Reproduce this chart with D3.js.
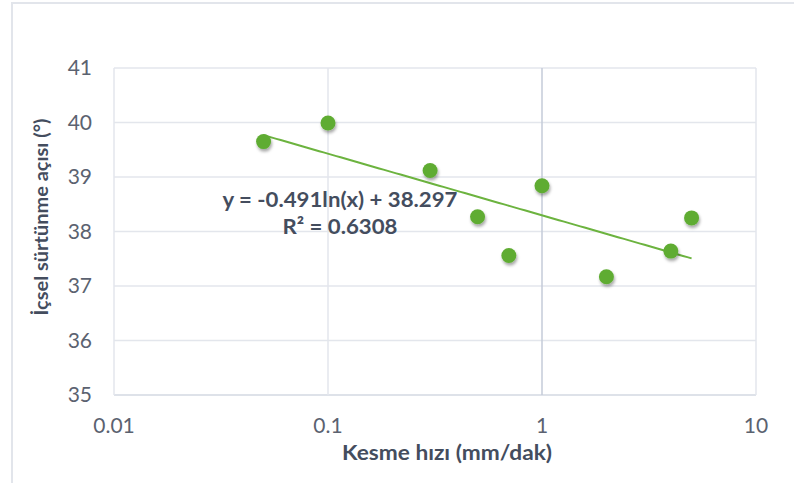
<!DOCTYPE html>
<html>
<head>
<meta charset="utf-8">
<script src="https://cdn.jsdelivr.net/npm/d3@7"></script>
<style>
  body { margin: 0; background: #fff; }
  svg { display: block; font-family: Lato, "Open Sans", sans-serif; }
</style>
</head>
<body>
<script>
// data
const speeds = [0.05, 0.1, 0.3, 0.5, 0.7, 1, 2, 4, 5];
const angles = [39.65, 39.99, 39.12, 38.27, 37.56, 38.84, 37.17, 37.64, 38.25];
const xTicks = [0.01, 0.1, 1, 10];
const yTicks = [35, 36, 37, 38, 39, 40, 41];
const trendA = -0.491, trendB = 38.297;
const eqLines = ['y = -0.491ln(x) + 38.297', 'R² = 0.6308'];
const eqWidths = [235, 115];

const width = 794, height = 483;
const margin = { left: 114, right: 38, top: 68, bottom: 88 };

const svg = d3.select('body').append('svg')
  .attr('width', width)
  .attr('height', height);

// drop shadow for the markers
const defs = svg.append('defs');
const shadow = defs.append('filter').attr('id', 'shadow')
  .attr('x', '-50%').attr('y', '-50%').attr('width', '200%').attr('height', '200%');
shadow.append('feDropShadow')
  .attr('dx', 1).attr('dy', 2.5).attr('stdDeviation', 1.6)
  .attr('flood-color', '#000').attr('flood-opacity', 0.35);

// outer chart border (only top/left are visible in the crop)
svg.append('path')
  .attr('d', `M12,${height} V3 H${width}`)
  .attr('fill', 'none')
  .attr('stroke', '#e2e5eb')
  .attr('stroke-width', 2);

const x = d3.scaleLog()
  .domain([0.01, 10])
  .range([margin.left, width - margin.right]);
const y = d3.scaleLinear()
  .domain([35, 41])
  .range([height - margin.bottom, margin.top]);

// grid
svg.append('g').selectAll('line.h')
  .data(yTicks)
  .enter().append('line')
  .attr('x1', x(0.01)).attr('x2', x(10))
  .attr('y1', d => y(d)).attr('y2', d => y(d))
  .attr('stroke', d => d === 35 ? '#d3d8e2' : '#e3e6ec')
  .attr('stroke-width', 1.5);

svg.append('g').selectAll('line.v')
  .data(xTicks)
  .enter().append('line')
  .attr('x1', d => x(d)).attr('x2', d => x(d))
  .attr('y1', y(35)).attr('y2', y(41))
  .attr('stroke', d => d === 1 ? '#c5cbd9' : '#e3e6ec')
  .attr('stroke-width', 1.5);

// tick labels
svg.append('g').selectAll('text')
  .data(yTicks)
  .enter().append('text')
  .attr('x', 92)
  .attr('y', d => y(d) + 7)
  .attr('text-anchor', 'end')
  .attr('font-size', 21)
  .attr('fill', '#5b6270')
  .text(d => d);

svg.append('g').selectAll('text')
  .data(xTicks)
  .enter().append('text')
  .attr('x', d => x(d))
  .attr('y', 433)
  .attr('text-anchor', 'middle')
  .attr('font-size', 21)
  .attr('fill', '#5b6270')
  .text(d => d);

// axis titles
svg.append('text')
  .attr('transform', 'translate(48,217) rotate(-90)')
  .attr('text-anchor', 'middle')
  .attr('font-size', 19)
  .attr('font-weight', 'bold')
  .attr('fill', '#444d5e')
  .attr('textLength', 197)
  .attr('lengthAdjust', 'spacingAndGlyphs')
  .text('İçsel sürtünme açısı (°)');

svg.append('text')
  .attr('x', 447)
  .attr('y', 460)
  .attr('text-anchor', 'middle')
  .attr('font-size', 20)
  .attr('font-weight', 'bold')
  .attr('fill', '#444d5e')
  .attr('textLength', 210)
  .attr('lengthAdjust', 'spacingAndGlyphs')
  .text('Kesme hızı (mm/dak)');

// logarithmic trendline
const trendX = d3.range(0, 101).map(i => speeds[0] * Math.pow(speeds[speeds.length - 1] / speeds[0], i / 100));
const line = d3.line()
  .x(d => x(d))
  .y(d => y(trendA * Math.log(d) + trendB));
svg.append('path')
  .datum(trendX)
  .attr('d', line)
  .attr('fill', 'none')
  .attr('stroke', '#6cb33f')
  .attr('stroke-width', 2);

// points
svg.append('g').selectAll('circle')
  .data(speeds)
  .enter().append('circle')
  .attr('cx', d => x(d))
  .attr('cy', (d, i) => y(angles[i]))
  .attr('r', 7.5)
  .attr('fill', '#5fac32')
  .attr('filter', 'url(#shadow)');

// equation label
svg.append('g').selectAll('text')
  .data(eqLines)
  .enter().append('text')
  .attr('x', 340)
  .attr('y', (d, i) => 207 + i * 27)
  .attr('text-anchor', 'middle')
  .attr('font-size', 21.5)
  .attr('font-weight', 'bold')
  .attr('fill', '#444d5e')
  .attr('textLength', (d, i) => eqWidths[i])
  .attr('lengthAdjust', 'spacingAndGlyphs')
  .text(d => d);
</script>
</body>
</html>
